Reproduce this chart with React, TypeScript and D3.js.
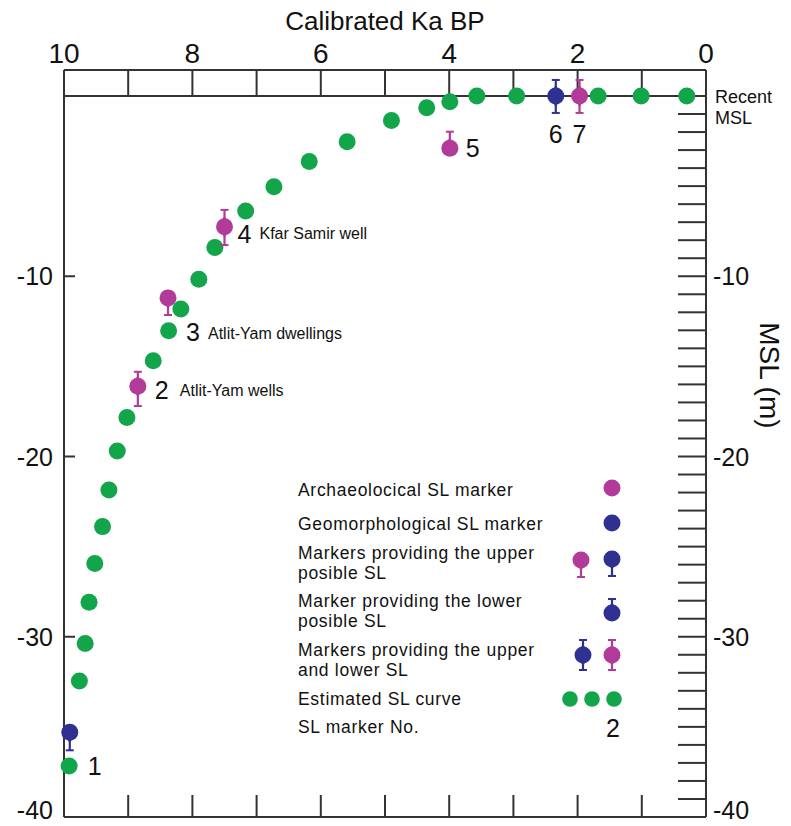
import React from "react";
import * as d3 from "d3";

// ---- Data ----
const curveAge = [0.3, 1.01, 1.68, 2.95, 3.57, 3.99, 4.35, 4.9, 5.59, 6.18, 6.73, 7.17, 7.65, 7.9, 8.18, 8.37, 8.61, 9.02, 9.17, 9.3, 9.4, 9.52, 9.61, 9.67, 9.76, 9.92];
const curveMSL = [0, 0, 0, 0, 0, -0.32, -0.65, -1.36, -2.54, -3.64, -5.03, -6.38, -8.4, -10.17, -11.82, -13.02, -14.69, -17.84, -19.7, -21.86, -23.89, -25.93, -28.09, -30.37, -32.46, -37.17];

const markerNo = [1, 2, 3, 4, 5, 6, 7];
const markerAge = [9.91, 8.85, 8.38, 7.5, 3.99, 2.34, 1.97];
const markerMSL = [-35.3, -16.1, -11.2, -7.25, -2.9, 0, 0];
const markerLow: (number | null)[] = [-36.3, -17.2, -12.15, -8.27, null, -0.94, -0.94];
const markerHigh: (number | null)[] = [null, -15.3, null, -6.32, -1.98, 0.89, 0.89];
const markerKind = ["geo", "arch", "arch", "arch", "arch", "geo", "arch"];
const markerSite = ["", "Atlit-Yam wells", "Atlit-Yam dwellings", "Kfar Samir well", "", "", ""];

const topTickLabels = [10, 8, 6, 4, 2, 0];
const depthLabels = [-10, -20, -30, -40];

const legendItems = [
  ["Archaeolocical SL marker"],
  ["Geomorphological SL marker"],
  ["Markers providing the upper", "posible SL"],
  ["Marker providing the lower", "posible SL"],
  ["Markers providing the upper", "and lower SL"],
  ["Estimated SL curve"],
  ["SL marker No."],
];

// ---- Layout ----
const W = 791, H = 826;
const L = 64, R = 706, TOPBAND = 70, T = 96, B = 817;
const GREEN = "#12a54a";
const MAGENTA = "#b23a98";
const BLUE = "#2e3192";
const AXIS = "#333";
const FONT = "'Liberation Sans', Arial, Helvetica, sans-serif";

const labelOffsets = [
  { dx: 18, dy: 43, anchor: "start" },
  { dx: 17, dy: 13, anchor: "start" },
  { dx: 18, dy: 43, anchor: "start" },
  { dx: 13, dy: 16, anchor: "start" },
  { dx: 16, dy: 9, anchor: "start" },
  { dx: 0, dy: 47, anchor: "middle" },
  { dx: 0, dy: 47, anchor: "middle" },
];
const siteOffsets = [
  { dx: 0, dy: 0 },
  { dx: 25, dy: -3 },
  { dx: 22, dy: -2 },
  { dx: 22, dy: -4 },
  { dx: 0, dy: 0 },
  { dx: 0, dy: 0 },
  { dx: 0, dy: 0 },
];

const x = d3.scaleLinear().domain([10, 0]).range([L, R]);
const y = d3.scaleLinear().domain([0, -40]).range([T, B]);
const R_MARK = 8.5;

function Marker({ cx, cy, color, up, down }: { cx: number; cy: number; color: string; up?: number | null; down?: number | null }) {
  return (
    <g>
      {up != null && (
        <g>
          <line x1={cx} x2={cx} y1={cy} y2={up} stroke={color} strokeWidth={2.2} />
          <line x1={cx - 4} x2={cx + 4} y1={up} y2={up} stroke={color} strokeWidth={2} />
          <path d={`M${cx - 4},${cy - 6} Q${cx},${cy - 9} ${cx},${cy - 13} Q${cx},${cy - 9} ${cx + 4},${cy - 6} Z`} fill={color} />
        </g>
      )}
      {down != null && (
        <g>
          <line x1={cx} x2={cx} y1={cy} y2={down} stroke={color} strokeWidth={2.2} />
          <line x1={cx - 4} x2={cx + 4} y1={down} y2={down} stroke={color} strokeWidth={2} />
          <path d={`M${cx - 4},${cy + 6} Q${cx},${cy + 9} ${cx},${cy + 13} Q${cx},${cy + 9} ${cx + 4},${cy + 6} Z`} fill={color} />
        </g>
      )}
      <circle cx={cx} cy={cy} r={R_MARK} fill={color} />
    </g>
  );
}

export default function App() {
  const ageTicks = d3.range(0, 11, 1);
  const rightTicks = d3.range(-1, -40, -1);

  const legendX = 298;
  const legendRows = [
    [496],
    [530],
    [559, 579],
    [607, 627],
    [656, 676],
    [705],
    [733],
  ];

  return (
    <svg width={W} height={H} style={{ position: "absolute", left: 0, top: 0, background: "#fff" }} fontFamily={FONT}>
      <rect x={0} y={0} width={W} height={H} fill="#fff" />
      {/* Title */}
      <text x={385} y={30} fontSize={26} textAnchor="middle" fill="#111">Calibrated Ka BP</text>
      {/* Top tick labels */}
      {topTickLabels.map((t) => (
        <text key={t} x={x(t)} y={63} fontSize={28} textAnchor="middle" fill="#111">{t}</text>
      ))}
      {/* Top band */}
      <line x1={L} x2={R} y1={TOPBAND} y2={TOPBAND} stroke={AXIS} strokeWidth={2} />
      <line x1={L} x2={R} y1={y(0)} y2={y(0)} stroke={AXIS} strokeWidth={2} />
      {ageTicks.map((t) => (
        <line key={t} x1={x(t)} x2={x(t)} y1={TOPBAND} y2={y(0)} stroke={AXIS} strokeWidth={2} />
      ))}
      {/* Frame left/right/bottom */}
      <line x1={L} x2={L} y1={TOPBAND} y2={B} stroke={AXIS} strokeWidth={2} />
      <line x1={R} x2={R} y1={TOPBAND} y2={B} stroke={AXIS} strokeWidth={2} />
      <line x1={L} x2={R} y1={B} y2={B} stroke={AXIS} strokeWidth={2} />
      {/* Bottom ticks */}
      {ageTicks.filter((t) => t > 0 && t < 10).map((t) => (
        <line key={t} x1={x(t)} x2={x(t)} y1={B - 22} y2={B} stroke={AXIS} strokeWidth={2} />
      ))}
      {/* Left ticks and labels */}
      {depthLabels.map((d) => (
        <g key={d}>
          {d > -40 && <line x1={L} x2={L + 11} y1={y(d)} y2={y(d)} stroke={AXIS} strokeWidth={2} />}
          <text x={53} y={Math.min(y(d) + 9, 819)} fontSize={25} textAnchor="end" fill="#111">{d}</text>
          <text x={713} y={Math.min(y(d) + 9, 819)} fontSize={25} textAnchor="start" fill="#111">{d}</text>
        </g>
      ))}
      {/* Right ticks */}
      {rightTicks.map((d) => (
        <line key={d} x1={R - 28} x2={R} y1={y(d)} y2={y(d)} stroke={AXIS} strokeWidth={2} />
      ))}
      <text x={715} y={103} fontSize={18} fill="#111">Recent</text>
      <text x={715} y={124} fontSize={18} fill="#111">MSL</text>
      <text transform={`translate(760,${y(-15.5)}) rotate(90)`} fontSize={28} textAnchor="middle" fill="#111">MSL (m)</text>

      {/* Estimated curve dots */}
      {curveAge.map((a, i) => (
        <circle key={i} cx={x(a)} cy={y(curveMSL[i])} r={R_MARK} fill={GREEN} />
      ))}

      {/* SL markers */}
      {markerNo.map((n, i) => {
        const cx = x(markerAge[i]);
        const cy = y(markerMSL[i]);
        const color = markerKind[i] === "geo" ? BLUE : MAGENTA;
        const hi = markerHigh[i];
        const lo = markerLow[i];
        const off = labelOffsets[i];
        const so = siteOffsets[i];
        return (
          <g key={n}>
            <Marker cx={cx} cy={cy} color={color} up={hi != null ? y(hi) : null} down={lo != null ? y(lo) : null} />
            <text x={cx + off.dx} y={cy + off.dy} fontSize={25} textAnchor={off.anchor as any} fill="#111">{n}</text>
            {markerSite[i] && (
              <text x={cx + off.dx + so.dx} y={cy + off.dy + so.dy} fontSize={16} fill="#111">{markerSite[i]}</text>
            )}
          </g>
        );
      })}

      {/* Legend */}
      {legendItems.map((lines, i) => (
        <g key={i}>
          {lines.map((s, j) => (
            <text key={j} x={legendX} y={legendRows[i][j]} fontSize={17.5} letterSpacing={0.7} fill="#111">{s}</text>
          ))}
        </g>
      ))}
      <Marker cx={612} cy={488} color={MAGENTA} />
      <Marker cx={612} cy={523} color={BLUE} />
      <Marker cx={581} cy={560} color={MAGENTA} down={577} />
      <Marker cx={612} cy={559} color={BLUE} down={576} />
      <Marker cx={612} cy={613} color={BLUE} up={599} />
      <Marker cx={583} cy={655} color={BLUE} up={640} down={670} />
      <Marker cx={612} cy={655} color={MAGENTA} up={640} down={670} />
      {[570, 592, 614].map((cx) => (
        <circle key={cx} cx={cx} cy={699} r={7.8} fill={GREEN} />
      ))}
      <text x={613} y={737} fontSize={25} textAnchor="middle" fill="#111">2</text>
    </svg>
  );
}
